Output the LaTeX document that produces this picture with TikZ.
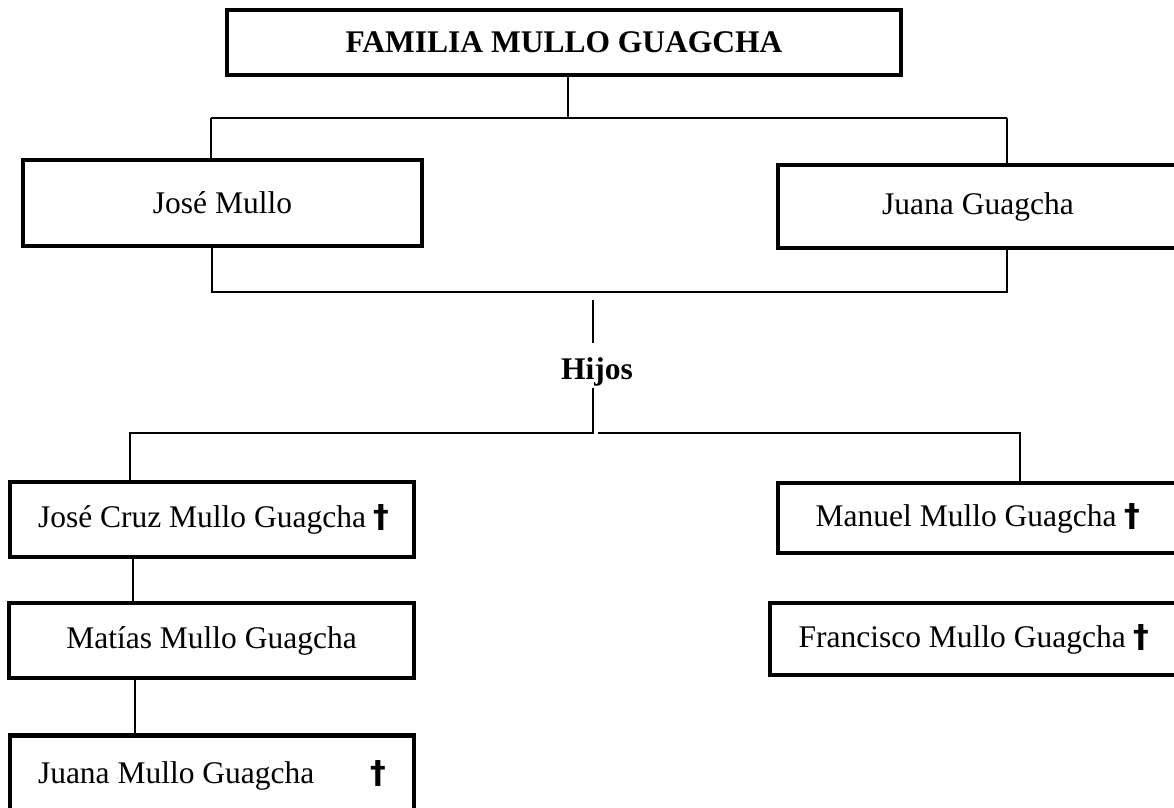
\documentclass[tikz,border=0pt]{standalone}
\usepackage{fontspec}
\setmainfont{Liberation Serif}
\newfontfamily\dagfont{DejaVu Sans}
\newcommand{\dg}{{\dagfont\bfseries †}}
\begin{document}
\begin{tikzpicture}[x=1pt,y=-1pt,
  fam/.style={draw, line width=4.5pt, rectangle, inner sep=0pt,
    font=\fontsize{31.5}{36}\selectfont},
  conn/.style={line width=1.8pt},
  lbl/.style={inner sep=0pt, font=\fontsize{31.5}{36}\selectfont\bfseries}]
\clip (0,0) rectangle (1174,807);
\fill[white] (0,0) rectangle (1174,807);
% boxes
\node[fam, minimum width=674pt, minimum height=65pt] (title) at (564,42.5) {\bfseries FAMILIA MULLO GUAGCHA};
\node[fam, minimum width=399pt, minimum height=86pt] (jm) at (222.5,203) {José Mullo};
\node[fam, minimum width=400pt, minimum height=83pt] (jg) at (978,206.5) {Juana Guagcha};
\node[lbl] (hijos) at (597,372) {Hijos};
\node[fam, minimum width=404pt, minimum height=75pt] (jc) at (212,519.5) {\makebox[348pt][l]{José Cruz Mullo Guagcha \dg}};
\node[fam, minimum width=400pt, minimum height=70pt] (mn) at (978,518) {Manuel Mullo Guagcha \dg};
\node[fam, minimum width=405pt, minimum height=75pt] (mt) at (211.5,640.5) {Matías Mullo Guagcha};
\node[fam, minimum width=408pt, minimum height=72pt] (fr) at (974,639) {Francisco Mullo Guagcha \dg};
\node[fam, minimum width=404pt, minimum height=80pt, anchor=north] (ju) at (212,733) {\makebox[348pt][l]{Juana Mullo Guagcha\hfill\dg}};
% junctions
\coordinate (j1) at (568,118);
\coordinate (hL) at (211,118);
\coordinate (hR) at (1007,118);
\coordinate (bL) at (212,292);
\coordinate (bR) at (1007,292);
\coordinate (h1) at (593,300);
\coordinate (h2) at (593,343);
\coordinate (h3) at (593,388);
\coordinate (h4) at (593,433);
\coordinate (c1) at (130,433);
\coordinate (c2) at (598,433);
\coordinate (c3) at (1020,433);
% connectors
\draw[conn] (title.south -| j1) -- (j1);
\draw[conn] (hL) -- (hR);
\draw[conn] (hL) -- (hL |- jm.north);
\draw[conn] (hR) -- (hR |- jg.north);
\draw[conn] (jm.south -| bL) -- (bL) -- (bR) -- (bR |- jg.south);
\draw[conn] (h1) -- (h2);
\draw[conn] (h3) -- (h4) -- (c1) -- (c1 |- jc.north);
\draw[conn] (c2) -- (c3) -- (c3 |- mn.north);
\draw[conn] (jc.south -| 133,0) -- (mt.north -| 133,0);
\draw[conn] (mt.south -| 135,0) -- (ju.north -| 135,0);
\end{tikzpicture}
\end{document}
